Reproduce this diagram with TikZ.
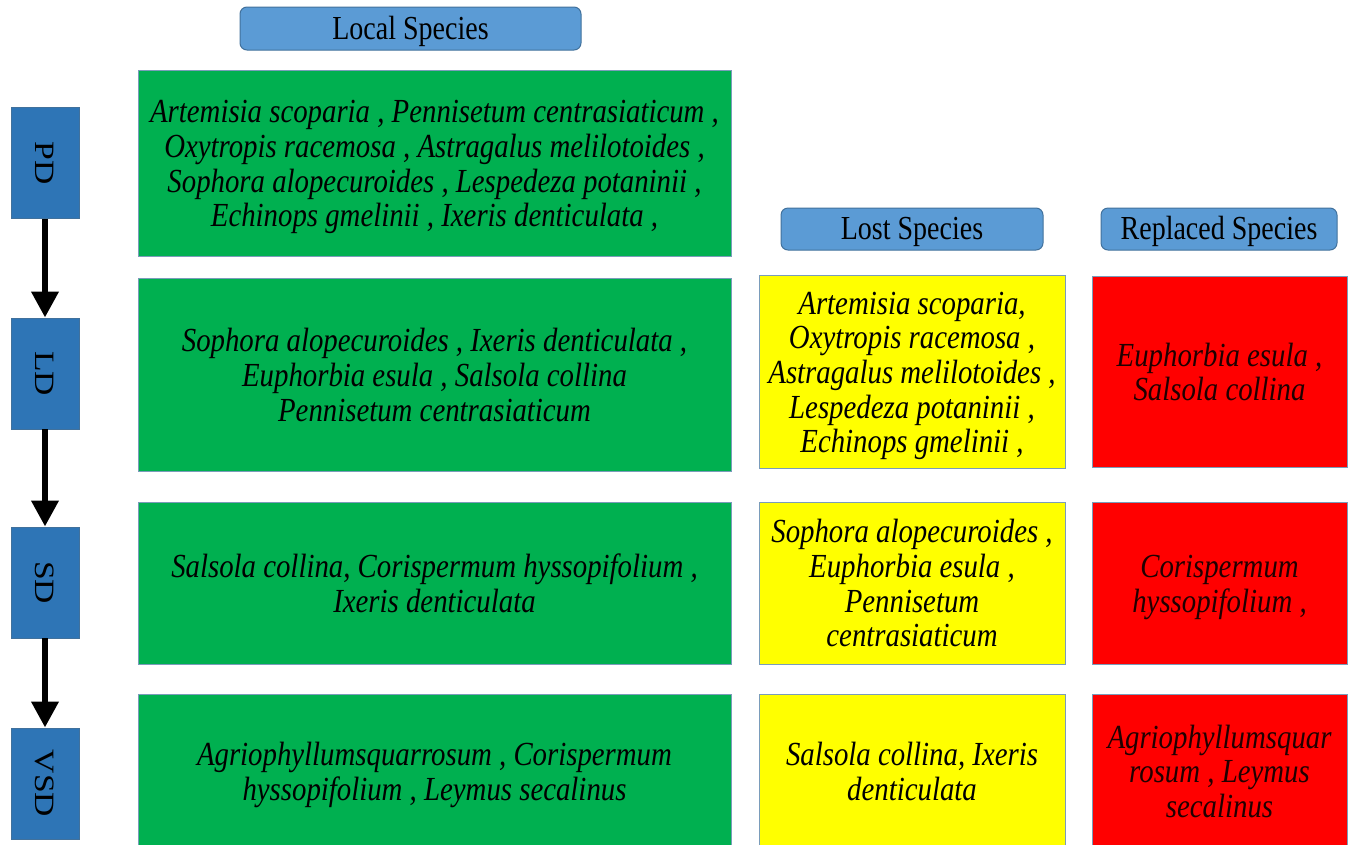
\documentclass[tikz,border=0pt]{standalone}
\usepackage{fontspec}
\setmainfont{Liberation Serif}
\usepackage{graphicx}
\usetikzlibrary{arrows.meta}

\definecolor{hdrblue}{HTML}{5B9BD5}
\definecolor{stblue}{HTML}{2E75B6}
\definecolor{edgeblue}{HTML}{41719C}
\definecolor{locgreen}{HTML}{00B050}
\definecolor{lostyellow}{HTML}{FFFF00}
\definecolor{repred}{HTML}{FF0000}
\definecolor{reptext}{HTML}{200000}

% stretched multi-line text, as in the original slide
\newcommand{\spp}[1]{\raisebox{-5pt}[\height][\depth]{\scalebox{1}[1.17]{\begin{tabular}{@{}c@{}}#1\end{tabular}}}}
\newcommand{\hdr}[1]{\raisebox{-2.5pt}[\height][\depth]{\scalebox{1}[1.2]{#1}}}

\begin{document}
\begin{tikzpicture}[x=1pt,y=-1pt,>={Triangle[width=26pt,length=26pt]},
        header/.style={draw=edgeblue,fill=hdrblue,rounded corners=7pt,line width=1pt,
          inner sep=0pt,font=\fontsize{28}{29}\selectfont},
        stage/.style={draw=edgeblue,fill=stblue,line width=0.8pt,inner sep=0pt,
          minimum width=68pt,minimum height=111pt,font=\fontsize{28}{29}\selectfont},
        sppbox/.style={draw=edgeblue!70,line width=1pt,inner sep=0pt,
          font=\fontsize{28.8}{29.6}\selectfont\itshape},
        local/.style={sppbox,fill=locgreen,minimum width=593pt},
        lost/.style={sppbox,fill=lostyellow,minimum width=306pt},
        repl/.style={sppbox,fill=repred,minimum width=255pt,text=reptext}]

  \useasboundingbox (0,0) rectangle (1349,844);
  \clip (0,0) rectangle (1349,844);

  % column headers
  \node[header,minimum width=341pt,minimum height=43pt] (hlocal) at (410.5,28.5) {\hdr{Local Species}};
  \node[header,minimum width=262pt,minimum height=42pt] (hlost) at (912,229) {\hdr{Lost Species}};
  \node[header,minimum width=236pt,minimum height=42pt] (hrepl) at (1219,229) {\hdr{Replaced Species}};

  % degradation stages
  \node[stage] (pd) at (45,163) {\rotatebox{-90}{\scalebox{1.2}[1]{PD}}};
  \node[stage] (ld) at (45,373.5) {\rotatebox{-90}{\scalebox{1.2}[1]{LD}}};
  \node[stage] (sd) at (45,582.5) {\rotatebox{-90}{\scalebox{1.2}[1]{SD}}};
  \node[stage] (vsd) at (45,783.5) {\rotatebox{-90}{\scalebox{1.2}[1]{VSD}}};

  \draw[->,line width=6.5pt] (pd) -- (ld);
  \draw[->,line width=6.5pt] (ld) -- (sd);
  \draw[->,line width=6.5pt] (sd) -- (vsd);

  % local species
  \node[local,minimum height=186pt] (pdloc) at (434.5,163)
    {\spp{Artemisia scoparia , Pennisetum centrasiaticum ,\\ Oxytropis racemosa , Astragalus melilotoides ,\\
      Sophora alopecuroides , Lespedeza potaninii ,\\ Echinops gmelinii , Ixeris denticulata ,}};
  \node[local,minimum height=193pt] (ldloc) at (434.5,374.5)
    {\spp{Sophora alopecuroides , Ixeris denticulata ,\\ Euphorbia esula , Salsola collina\\ Pennisetum centrasiaticum}};
  \node[local,minimum height=162pt] (sdloc) at (434.5,583)
    {\spp{Salsola collina, Corispermum hyssopifolium ,\\ Ixeris denticulata}};
  \node[local,minimum height=154pt] (vsdloc) at (434.5,771)
    {\spp{Agriophyllumsquarrosum , Corispermum\\ hyssopifolium , Leymus secalinus}};

  % lost species
  \node[lost,minimum height=193pt] (ldlost) at (912,371.5)
    {\spp{Artemisia scoparia,\\ Oxytropis racemosa ,\\ Astragalus melilotoides ,\\ Lespedeza potaninii ,\\ Echinops gmelinii ,}};
  \node[lost,minimum height=162pt] (sdlost) at (912,583)
    {\spp{Sophora alopecuroides ,\\ Euphorbia esula ,\\ Pennisetum\\ centrasiaticum}};
  \node[lost,minimum height=154pt] (vsdlost) at (912,771)
    {\spp{Salsola collina, Ixeris\\ denticulata}};

  % replaced species
  \node[repl,minimum height=191pt] (ldrepl) at (1219.5,371.5)
    {\spp{Euphorbia esula ,\\ Salsola collina}};
  \node[repl,minimum height=162pt] (sdrepl) at (1219.5,583)
    {\spp{Corispermum\\ hyssopifolium ,}};
  \node[repl,minimum height=154pt] (vsdrepl) at (1219.5,771)
    {\spp{Agriophyllumsquar\\ rosum , Leymus\\ secalinus}};

\end{tikzpicture}
\end{document}
